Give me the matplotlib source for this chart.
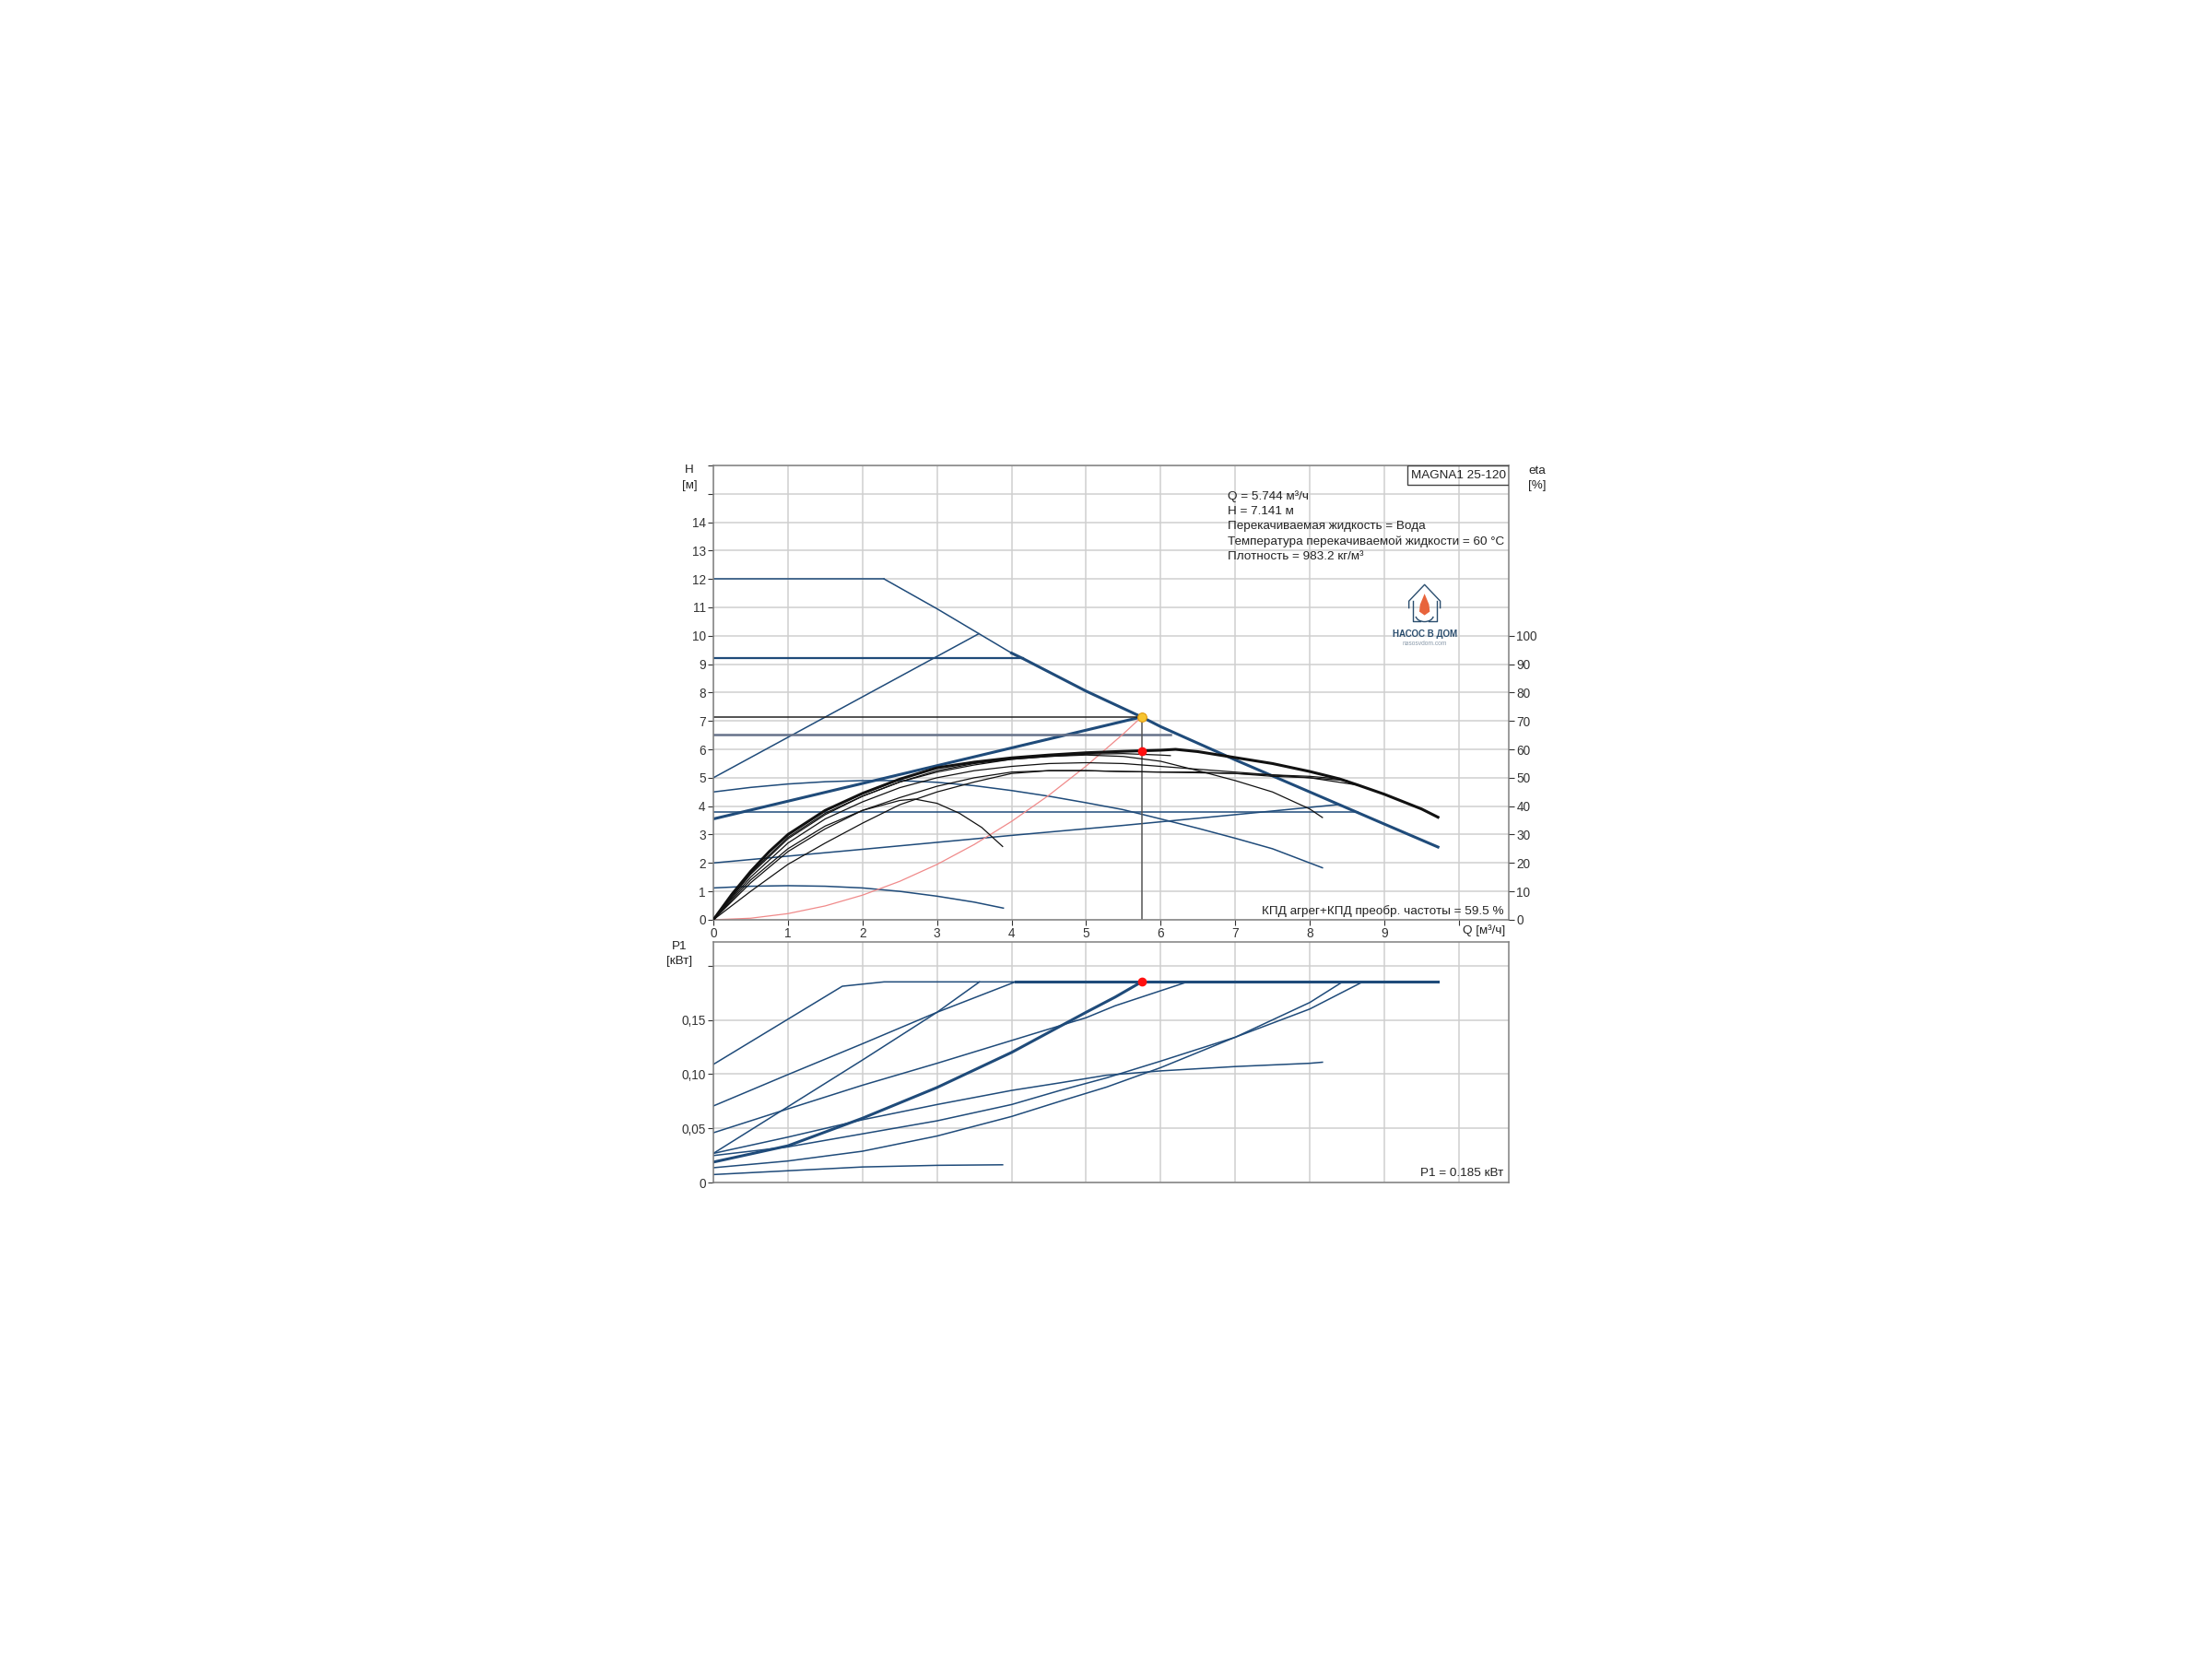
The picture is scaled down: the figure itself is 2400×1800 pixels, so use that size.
import numpy as np
import matplotlib.pyplot as plt
from matplotlib.patches import Rectangle, Polygon, Arc

plt.rcParams['font.family'] = ['Liberation Sans', 'DejaVu Sans']

# operating point
Q_op = 5.744
H_op = 7.141
eta_op = 59.5
P_op = 0.185

# --- H(Q) curves ---
max_q = [0, 2.29, 3.0, 4.0, 4.15, 5.0, 5.744, 6.0, 7.0, 8.0, 9.0, 9.72]
max_h = [12, 12, 10.95, 9.39, 9.2, 8.05, 7.141, 6.8, 5.63, 4.5, 3.37, 2.56]

pp_high_q = [0, 3.56]
pp_high_h = [5.0, 10.07]
pp_op_q = [0, Q_op]
pp_op_h = [3.55, H_op]
pp_low_q = [0, 2, 4, 5.49, 7, 8.4]
pp_low_h = [2.0, 2.48, 2.97, 3.32, 3.7, 4.06]

cp_92_q = [0, 4.15]
cp_92_h = [9.2, 9.2]
cp_652_q = [0, 6.13]
cp_652_h = [6.52, 6.52]
cp_378_q = [0, 8.64]
cp_378_h = [3.78, 3.78]

fs_mid_q = [0, 0.5, 1, 1.5, 2, 2.5, 3, 3.5, 4, 4.5, 5, 5.49, 6, 6.5, 7, 7.5, 8.17]
fs_mid_h = [4.5, 4.66, 4.78, 4.86, 4.9, 4.9, 4.84, 4.72, 4.55, 4.35, 4.12, 3.88, 3.55, 3.22, 2.87, 2.5, 1.83]
fs_low_q = [0, 0.5, 1, 1.5, 2, 2.5, 3, 3.5, 3.89]
fs_low_h = [1.12, 1.18, 1.2, 1.18, 1.12, 1.0, 0.83, 0.62, 0.41]

# system curve through the operating point
sys_q = [0, 0.5, 1, 1.5, 2, 2.5, 3, 3.5, 4, 4.5, 5, 5.5, 5.744]
sys_h = [0, 0.054, 0.216, 0.487, 0.866, 1.353, 1.948, 2.651, 3.463, 4.383, 5.411, 6.547, 7.141]

# --- efficiency curves [%] ---
eta_a_q = [0, 0.25, 0.5, 0.75, 1, 1.5, 2, 2.5, 3, 3.5, 4, 4.5, 5, 5.5, 5.744, 6, 6.2, 6.5, 7, 7.5, 8, 8.4, 8.65, 9, 9.5, 9.72]
eta_a = [0, 9, 17, 24, 30, 38.5, 44.5, 49.5, 53.5, 55.5, 57, 58, 58.8, 59.3, 59.5, 59.7, 60.0, 59.2, 57.1, 55.0, 52.2, 49.6, 47.4, 44.2, 39, 36.1]
eta_b_q = [0, 0.5, 1, 1.5, 2, 2.5, 3, 3.5, 4, 4.5, 5, 5.5, 6, 6.5, 7, 7.5, 8, 8.65]
eta_b = [0, 15, 27, 35.5, 41.5, 46.5, 50, 52.5, 54, 55, 55.3, 55, 54, 53, 52, 51, 50, 47.4]
eta_c_q = [0, 0.5, 1, 1.5, 2, 2.5, 3, 3.5, 4, 4.5, 5, 5.5, 6, 7, 7.5, 8, 8.4]
eta_c = [0, 13, 24, 32, 38.5, 43, 47, 50, 52, 52.5, 52.5, 52.2, 52, 51.5, 51, 50.5, 49.6]
eta_d_q = [0, 0.5, 1, 1.5, 2, 2.5, 3, 3.5, 4, 4.5, 5, 5.5, 6, 6.5, 7, 7.5, 8, 8.17]
eta_d = [0, 16, 28.5, 37, 43.5, 48.5, 52, 54.5, 56.5, 57.5, 58, 57.5, 55.8, 52.5, 49, 45, 39, 36]
eta_e_q = [0, 0.5, 1, 1.5, 2, 2.5, 2.7, 3, 3.3, 3.6, 3.88]
eta_e = [0, 14, 25, 33, 38.5, 42, 42.5, 41, 37.5, 32.5, 25.8]
eta_f_q = [0, 0.5, 1, 1.5, 1.75, 2, 2.5, 3, 3.5, 4, 4.5, 5, 5.5, 6, 6.5, 7, 7.5, 8, 8.5]
eta_f = [0, 10, 19.5, 27, 30.5, 34, 40.5, 45, 48.5, 51.5, 52.5, 52.5, 52.2, 52, 52, 51.5, 50.5, 50, 49]
eta_g_q = [0, 0.5, 1, 1.5, 2, 2.5, 3, 3.5, 4, 4.5, 5, 5.5, 6, 6.13]
eta_g = [0, 16.5, 29, 37.5, 43.5, 48.5, 52.5, 55, 56.5, 57.5, 58.3, 58.5, 58.0, 57.8]

# --- P1 curves [kW] ---
p_max_q = [0, 1.73, 2.29, 4.05, 9.72]
p_max = [0.109, 0.181, 0.185, 0.185, 0.185]
p_92_q = [0, 1, 2, 3, 4.05]
p_92 = [0.0707, 0.0996, 0.128, 0.157, 0.185]
p_pph_q = [0, 1, 2, 3, 3.57]
p_pph = [0.027, 0.07, 0.113, 0.157, 0.185]
p_652_q = [0, 1, 2, 3, 4, 5, 5.39, 6.36]
p_652 = [0.046, 0.068, 0.0898, 0.11, 0.131, 0.152, 0.163, 0.185]
p_op_q = [0, 1, 2, 3, 4, 5, 5.39, 5.744]
p_op = [0.019, 0.034, 0.0594, 0.0877, 0.12, 0.157, 0.171, 0.185]
p_fs_q = [0, 1, 2, 3, 4, 4.65, 5.27, 6, 7, 8, 8.17]
p_fs = [0.027, 0.042, 0.058, 0.072, 0.085, 0.092, 0.099, 0.103, 0.107, 0.110, 0.111]
p_378_q = [0, 1, 2, 3, 4, 4.65, 5.27, 6, 7, 8, 8.71]
p_378 = [0.025, 0.033, 0.045, 0.057, 0.072, 0.085, 0.0965, 0.112, 0.134, 0.160, 0.185]
p_ppl_q = [0, 1, 2, 3, 4, 4.65, 5.27, 6, 7, 8, 8.44]
p_ppl = [0.0138, 0.020, 0.029, 0.043, 0.061, 0.075, 0.088, 0.106, 0.134, 0.166, 0.185]
p_fsl_q = [0, 1, 2, 3, 3.88]
p_fsl = [0.0075, 0.011, 0.0145, 0.016, 0.0165]

h_ticks = list(range(0, 15))
eta_ticks = list(range(0, 101, 10))
q_ticks = list(range(0, 10))
p_ticks = [0, 0.05, 0.10, 0.15]
p_tick_labels = ['0', '0,05', '0,10', '0,15']

blue = '#1f4b7a'
thin = 1.1
thick = 2.2
grid_c = '#cfcfcf'
spine_c = '#808080'
txt_c = '#222222'
fs_txt = 9.7
fs_tick = 9.8

fig = plt.figure(figsize=(24, 18), dpi=100)
ax = fig.add_axes([0.3225, 0.4456, 0.3596, 0.2739])
ax2 = ax.twinx()
axp = fig.add_axes([0.3225, 0.2871, 0.3596, 0.1450])

for a in (ax, axp):
    a.set_xlim(0, 10.67)
    a.set_xticks(range(0, 11))
    a.grid(True, color=grid_c, lw=1.1, zorder=0)
    a.set_axisbelow(True)
    for s in a.spines.values():
        s.set_color(spine_c)
        s.set_linewidth(1.1)
    a.tick_params(colors='#333333', labelsize=fs_tick, length=4, width=0.8, pad=2)

ax.set_ylim(0, 16)
ax.set_yticks(range(0, 17))
ax.set_yticklabels([str(t) if t in h_ticks else '' for t in range(0, 17)])
ax.set_xticklabels([str(t) if t in q_ticks else '' for t in range(0, 11)])
ax2.set_ylim(0, 160)
ax2.set_yticks(eta_ticks)
ax2.tick_params(colors='#333333', labelsize=fs_tick, length=4, width=0.8, pad=2)
for s in ax2.spines.values():
    s.set_visible(False)

# blue H curves
ax.plot(max_q[:2], max_h[:2], color=blue, lw=thin)
ax.plot(max_q[1:4], max_h[1:4], color=blue, lw=thin)
ax.plot(max_q[3:], max_h[3:], color=blue, lw=thick)
ax.plot(pp_high_q, pp_high_h, color=blue, lw=thin)
ax.plot(pp_op_q, pp_op_h, color=blue, lw=thick)
ax.plot(pp_low_q, pp_low_h, color=blue, lw=thin)
ax.plot(cp_92_q, cp_92_h, color=blue, lw=1.6)
ax.plot(cp_652_q, cp_652_h, color='#66728a', lw=1.8)
ax.plot(cp_378_q, cp_378_h, color=blue, lw=thin)
ax.plot(fs_mid_q, fs_mid_h, color=blue, lw=thin)
ax.plot(fs_low_q, fs_low_h, color=blue, lw=thin)
ax.plot(sys_q, sys_h, color='#f08a8a', lw=0.9)
ax.plot([0, Q_op], [H_op, H_op], color='#222222', lw=1.1)
ax.plot([Q_op, Q_op], [0, H_op], color='#555555', lw=1.1)

# efficiency curves
for q, e, lw in [(eta_b_q, eta_b, 0.9), (eta_c_q, eta_c, 0.9), (eta_d_q, eta_d, 0.9),
                 (eta_e_q, eta_e, 0.9), (eta_f_q, eta_f, 0.9), (eta_g_q, eta_g, 0.9),
                 (eta_a_q, eta_a, 2.2)]:
    ax2.plot(q, e, color='#111111', lw=lw)

ax.plot(Q_op, H_op, 'o', ms=7, mfc='#f7c531', mec='#e09a10', mew=0.8, zorder=5)
ax2.plot(Q_op, eta_op, 'o', ms=6, color='#ff1010', zorder=5)

# P1 curves
axp.set_ylim(0, 0.2216)
axp.set_yticks([0, 0.05, 0.10, 0.15, 0.20])
axp.set_yticklabels(p_tick_labels + [''])
axp.set_xticklabels([])
axp.tick_params(axis='x', length=0)
for q, p in [(p_max_q[:4], p_max[:4]), (p_92_q, p_92), (p_pph_q, p_pph),
             (p_652_q, p_652), (p_fs_q, p_fs), (p_378_q, p_378),
             (p_ppl_q, p_ppl), (p_fsl_q, p_fsl)]:
    axp.plot(q, p, color=blue, lw=thin)
axp.plot(p_max_q[3:], p_max[3:], color=blue, lw=thick)
axp.plot(p_op_q, p_op, color=blue, lw=thick)
axp.plot(Q_op, P_op, 'o', ms=6, color='#ff1010', zorder=5)

# texts
info = [f'Q = {Q_op} м³/ч', f'H = {H_op} м', 'Перекачиваемая жидкость = Вода',
        'Температура перекачиваемой жидкости = 60 °C', 'Плотность = 983.2 кг/м³']
for i, line in enumerate(info):
    ax.text(6.9, 14.9 - 0.525 * i, line, fontsize=fs_txt, va='center', color=txt_c)
ax.add_patch(Rectangle((9.31, 15.32), 1.36, 0.68, fill=False, ec='#444444', lw=1.0, zorder=4))
ax.text(9.99, 15.63, 'MAGNA1 25-120', fontsize=fs_txt, ha='center', va='center', color=txt_c)
ax.text(10.6, 0.32, f'КПД агрег+КПД преобр. частоты = {eta_op} %', fontsize=fs_txt,
        ha='right', va='center', color=txt_c)
axp.text(10.6, 0.009, f'P1 = {P_op} кВт', fontsize=fs_txt, ha='right', va='center', color=txt_c)

# logo
logo_c = '#2a4d6e'
ax.plot([9.33, 9.33, 9.54, 9.75, 9.75], [10.98, 11.22, 11.8, 11.22, 10.98], color=logo_c, lw=1.0)
ax.plot([9.38, 9.38, 9.48], [11.22, 10.5, 10.5], color=logo_c, lw=1.0)
ax.plot([9.60, 9.70, 9.70], [10.5, 10.5, 11.22], color=logo_c, lw=1.0)
ax.add_patch(Arc((9.54, 10.72), 0.24, 0.45, theta1=200, theta2=340, color=logo_c, lw=1.0))
ax.add_patch(Polygon([[9.54, 11.48], [9.6, 11.1], [9.61, 10.85], [9.54, 10.72],
                      [9.47, 10.85], [9.48, 11.1]], closed=True, fc='#e8643c', ec='none'))
ax.text(9.54, 10.05, 'НАСОС В ДОМ', fontsize=7, ha='center', va='center', color=logo_c, fontweight='bold')
ax.text(9.54, 9.72, 'nasosvdom.com', fontsize=4.8, ha='center', va='center', color='#8a9aaa')

# axis titles
fig.text(748 / 2400, 1 - 510 / 1800, 'H', fontsize=fs_txt, ha='center', va='center', color=txt_c)
fig.text(748 / 2400, 1 - 527 / 1800, '[м]', fontsize=fs_txt, ha='center', va='center', color=txt_c)
fig.text(1668 / 2400, 1 - 511 / 1800, 'eta', fontsize=fs_txt, ha='center', va='center', color=txt_c)
fig.text(1668 / 2400, 1 - 527 / 1800, '[%]', fontsize=fs_txt, ha='center', va='center', color=txt_c)
fig.text(737 / 2400, 1 - 1027 / 1800, 'P1', fontsize=fs_txt, ha='center', va='center', color=txt_c)
fig.text(737 / 2400, 1 - 1043 / 1800, '[кВт]', fontsize=fs_txt, ha='center', va='center', color=txt_c)
fig.text(1610 / 2400, 1 - 1010 / 1800, 'Q [м³/ч]', fontsize=fs_txt, ha='center', va='center', color=txt_c)

fig.savefig('out.png', dpi=100, facecolor='white')
